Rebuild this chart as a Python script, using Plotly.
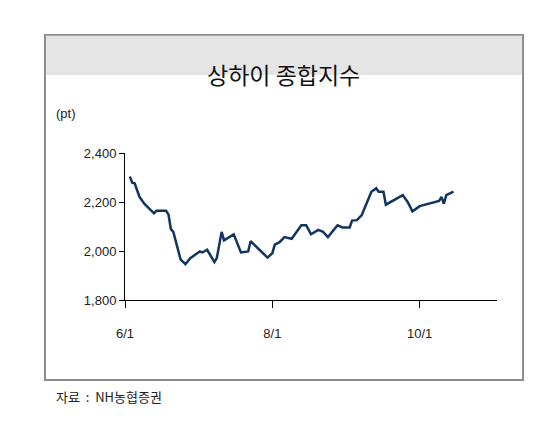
import plotly.graph_objects as go

dates = ["2013-06-03", "2013-06-04", "2013-06-05", "2013-06-07", "2013-06-09", "2013-06-13",
         "2013-06-14", "2013-06-18", "2013-06-19", "2013-06-20", "2013-06-21", "2013-06-24",
         "2013-06-26", "2013-06-28", "2013-07-02", "2013-07-03", "2013-07-05", "2013-07-08",
         "2013-07-09", "2013-07-11", "2013-07-12", "2013-07-16", "2013-07-19", "2013-07-22",
         "2013-07-23", "2013-07-30", "2013-08-01", "2013-08-02", "2013-08-04", "2013-08-06",
         "2013-08-09", "2013-08-13", "2013-08-15", "2013-08-17", "2013-08-20", "2013-08-22",
         "2013-08-24", "2013-08-28", "2013-08-30", "2013-09-02", "2013-09-03", "2013-09-05",
         "2013-09-07", "2013-09-11", "2013-09-13", "2013-09-14", "2013-09-16", "2013-09-17",
         "2013-09-24", "2013-09-26", "2013-09-28", "2013-10-01", "2013-10-09", "2013-10-10",
         "2013-10-11", "2013-10-12", "2013-10-15"]
values = [2304, 2279, 2276, 2221, 2193, 2154,
          2164, 2164, 2149, 2089, 2078, 1966,
          1946, 1971, 1998, 1994, 2005, 1955,
          1971, 2078, 2044, 2068, 1994, 1998,
          2040, 1973, 1991, 2026, 2036, 2057,
          2050, 2105, 2105, 2068, 2086, 2078,
          2057, 2105, 2096, 2096, 2124, 2126,
          2147, 2242, 2256, 2242, 2242, 2189,
          2228, 2200, 2162, 2183, 2204, 2221,
          2193, 2228, 2242]

tick_dates = ["2013-06-01", "2013-08-01", "2013-10-01"]
tick_labels = ["6/1", "8/1", "10/1"]

font = "Liberation Sans, Arial, sans-serif"
kr_font = "Noto Sans CJK KR, sans-serif"

fig = go.Figure(go.Scatter(x=dates, y=values, mode="lines",
                           line=dict(color="#12355f", width=2.5)))

# the page adds an 8px body margin, so margins are shifted by 8px
fig.update_layout(
    width=558, height=426,
    margin=dict(l=117, r=69, t=145, b=134),
    paper_bgcolor="white", plot_bgcolor="white",
    showlegend=False,
    font=dict(family=font, size=13, color="#222"),
    xaxis=dict(range=["2013-06-01", "2013-11-02"], tickvals=tick_dates, ticktext=tick_labels,
               showgrid=False, showline=True, linecolor="black", linewidth=1,
               ticks="outside", ticklen=7, tickcolor="black", ticklabelstandoff=14,
               zeroline=False),
    yaxis=dict(range=[1800, 2400], tickvals=[1800, 2000, 2200, 2400],
               tickformat=",", showgrid=False, showline=True, linecolor="black",
               linewidth=1, ticks="outside", ticklen=5, tickcolor="black",
               zeroline=False),
    shapes=[
        dict(type="rect", xref="paper", yref="paper", x0=-0.215, x1=1.07, y0=-0.544, y1=1.803,
             line=dict(color="#8c8c8c", width=2), fillcolor="rgba(0,0,0,0)", layer="below"),
        dict(type="rect", xref="paper", yref="paper", x0=-0.212, x1=1.067, y0=1.531, y1=1.797,
             line=dict(width=0), fillcolor="#e5e5e5", layer="below"),
    ],
    annotations=[
        dict(text="상하이 종합지수", xref="paper", yref="paper", x=0.427, y=1.664,
             showarrow=False, font=dict(family=kr_font, size=23, color="#111")),
        dict(text="(pt)", xref="paper", yref="paper", x=-0.19, y=1.33, xanchor="left",
             showarrow=False, font=dict(size=13)),
        dict(text="자료  :  NH농협증권", xref="paper", yref="paper", x=-0.19, y=-0.735,
             xanchor="left", showarrow=False, font=dict(family=kr_font, size=13, color="#222")),
    ],
)

fig.write_html("out.html")
